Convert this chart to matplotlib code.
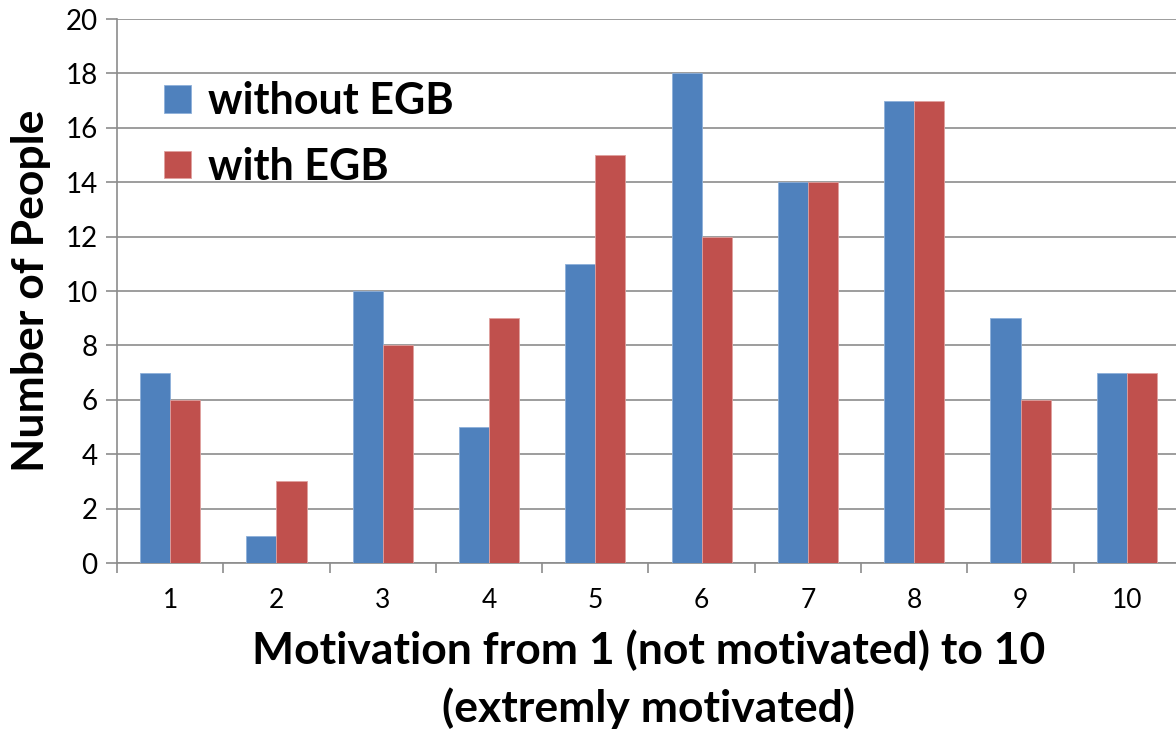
import matplotlib
matplotlib.use("Agg")
import matplotlib.pyplot as plt
import numpy as np

categories = ["1", "2", "3", "4", "5", "6", "7", "8", "9", "10"]
without_egb = [7, 1, 10, 5, 11, 18, 14, 17, 9, 7]
with_egb = [6, 3, 8, 9, 15, 12, 14, 17, 6, 7]
series_names = ["without EGB", "with EGB"]
colors = ["#4F81BD", "#C0504D"]

plt.rcParams['font.family'] = ['Lato', 'DejaVu Sans']

fig = plt.figure(figsize=(11.76, 7.30), dpi=100)
ax = fig.add_axes([117/1176, 1 - 563/730, (1180 - 117)/1176, (563 - 19)/730])

x = np.arange(len(categories))
w = 0.283
ax.bar(x - w/2, without_egb, w, color=colors[0], edgecolor="#8EB0DA", linewidth=0.6, label=series_names[0], zorder=3)
ax.bar(x + w/2, with_egb, w, color=colors[1], edgecolor="#E0A09E", linewidth=0.6, label=series_names[1], zorder=3)

ax.set_xlim(-0.5, len(categories) - 0.5)
ax.set_ylim(0, 20)
ax.set_yticks(np.arange(0, 21, 2))
ax.yaxis.grid(True, color="#8C8C8C", linewidth=1.2, zorder=0)
ax.set_axisbelow(True)

ax.set_xticks(np.arange(-0.5, len(categories), 1.0))
ax.set_xticklabels([])
ax.set_xticks(x, minor=True)
ax.set_xticklabels(categories, minor=True)
ax.tick_params(axis='x', which='major', length=7, width=1.2, color="#8C8C8C", direction='out')
ax.tick_params(axis='x', which='minor', length=0, pad=18, labelsize=19)
ax.tick_params(axis='y', length=8, width=1.2, color="#8C8C8C", direction='out', labelsize=20, pad=6)

for s in ["top", "right"]:
    ax.spines[s].set_visible(False)
for s in ["left", "bottom"]:
    ax.spines[s].set_color("#8C8C8C")
    ax.spines[s].set_linewidth(1.2)

ax.set_ylabel("Number of People", fontsize=32, fontweight='bold', labelpad=10)
ax.set_xlabel("Motivation from 1 (not motivated) to 10\n(extremly motivated)", fontsize=32,
              fontweight='bold', labelpad=12, linespacing=1.45)

leg = ax.legend(loc='upper left', bbox_to_anchor=(0.028, 0.918), frameon=False,
                prop={'size': 31, 'weight': 'bold'}, handlelength=0.62, handleheight=0.62,
                handletextpad=0.4, labelspacing=0.6, borderaxespad=0)

fig.savefig("out.png", dpi=100)
